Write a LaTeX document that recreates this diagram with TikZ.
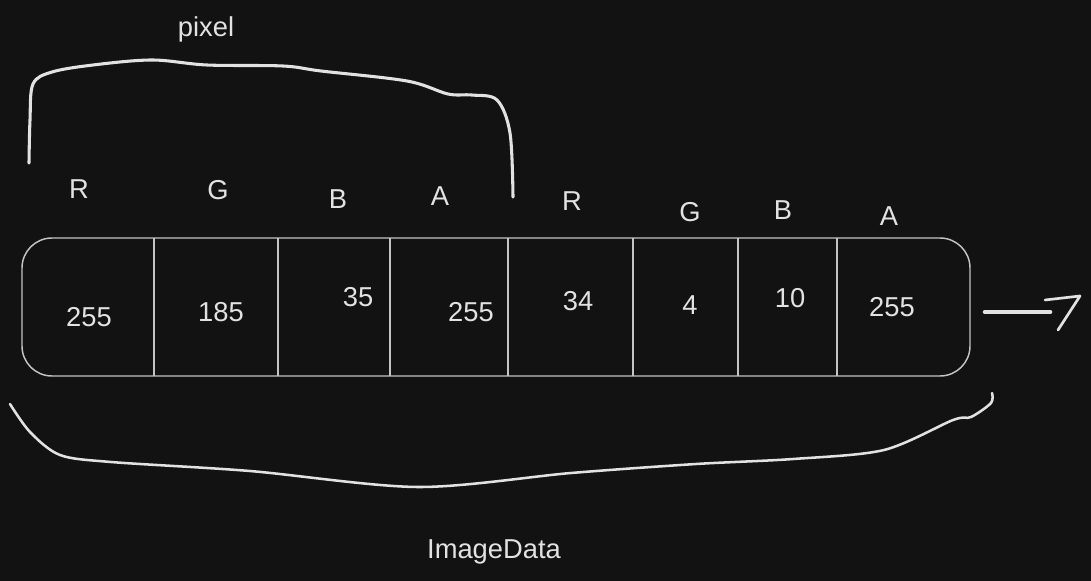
\documentclass[tikz,border=0pt]{standalone}
\usepackage{fontspec}
\setmainfont{Liberation Sans}
\definecolor{bg}{HTML}{121212}
\definecolor{ink}{HTML}{E2E2E2}
\definecolor{rim}{HTML}{C4C4C4}
\begin{document}
\begin{tikzpicture}[x=0.75pt,y=-0.75pt,
  lab/.style={text=ink,font=\fontsize{20.5}{24}\selectfont,inner sep=0pt},
  stroke/.style={draw=ink,line width=2.3pt,line cap=round,line join=round},
  divider/.style={draw=rim,line width=1.1pt}]
\fill[bg] (0,0) rectangle (1091,581);
\useasboundingbox (0,0) rectangle (1091,581);
% array box
\node[draw=rim,line width=1.1pt,rounded corners=22.5pt,minimum width=711pt,minimum height=103.5pt,inner sep=0pt] (arr) at (496,307) {};
\foreach \x in {154,278,390,508,633,738,837}
  \draw[divider] (\x,238) -- (\x,376);
% values
\node[lab] (v1) at (89,317) {255};
\node[lab] (v2) at (221,312) {185};
\node[lab] (v3) at (358,297) {35};
\node[lab] (v4) at (471,312) {255};
\node[lab] (v5) at (578,301) {34};
\node[lab] (v6) at (690,305) {4};
\node[lab] (v7) at (790,298) {10};
\node[lab] (v8) at (892,307) {255};
% channel letters
\node[lab] (c1) at (79,189) {R};
\node[lab] (c2) at (218,190) {G};
\node[lab] (c3) at (338,199) {B};
\node[lab] (c4) at (440,196) {A};
\node[lab] (c5) at (572,201) {R};
\node[lab] (c6) at (690,212) {G};
\node[lab] (c7) at (783,210) {B};
\node[lab] (c8) at (889,216) {A};
% labels
\node[lab] (pix) at (206,29) {pixel};
\node[lab] (img) at (494,552) {ImageData};
% top bracket
\draw[stroke] plot[smooth,tension=0.55] coordinates {(29,163) (30,120) (33,84) (52,72) (93,65) (152,60) (207,65) (283,66) (321,71) (407,81) (448,94) (472,95) (497,100) (510,133) (513,197)};
% bottom bracket
\draw[stroke,line width=1.9pt] plot[smooth,tension=0.5] coordinates {(10,404) (30,432) (60,455) (111,462) (250,471) (418,487) (571,473) (696,464) (793,459) (884,450) (953,420) (971,417) (991,403) (992,393)};
% continuation arrow
\coordinate (a0) at (985,312);
\coordinate (a1) at (1050,312);
\draw[draw=ink,line width=3.5pt,line cap=round] (a0) -- (a1);
\draw[stroke,line width=2pt] (1045,300) -- (1080,296) -- (1058,330);
\end{tikzpicture}
\end{document}
